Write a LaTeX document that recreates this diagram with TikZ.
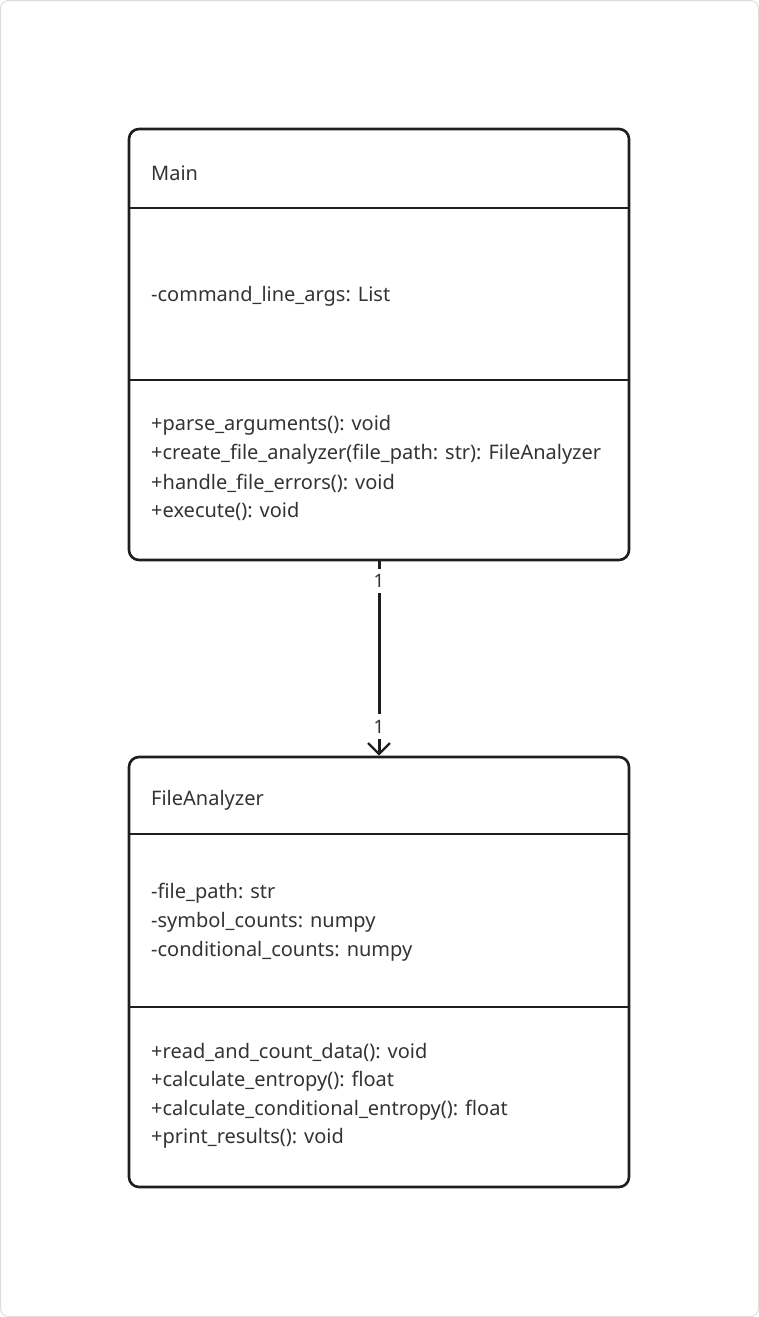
\documentclass[tikz,border=0pt]{standalone}
\usepackage{fontspec}
\setmainfont{Noto Sans}
\usetikzlibrary{arrows.meta}
\definecolor{txt}{HTML}{333333}
\definecolor{ln}{HTML}{1E1E1E}
\definecolor{frame}{HTML}{DDDDDD}
\tikzset{
  classbox/.style={draw=ln, line width=2.6pt, rounded corners=10pt, minimum width=500pt, inner sep=0pt},
  divider/.style={draw=ln, line width=2.6pt},
  member/.style={anchor=west, inner sep=0pt, text=txt, font=\fontsize{20}{24}\selectfont},
  mult/.style={fill=white, inner xsep=4pt, inner ysep=5.5pt, text=txt, font=\fontsize{18.5}{22}\selectfont},
  assoc/.style={draw=ln, line width=3pt, -{Straight Barb[length=11pt, width=22pt, line width=2.4pt]}}
}
\begin{document}
\begin{tikzpicture}[x=1pt, y=-1pt]
\useasboundingbox (0,0) rectangle (759,1317);
\draw[frame, line width=1pt, rounded corners=8pt] (0.5,0.5) rectangle (758.5,1316.5);

% Main class
\node[classbox, minimum height=431pt] (main) at (379,344.5) {};
\draw[divider] (main.west |- 0,208) -- (main.east |- 0,208);
\draw[divider] (main.west |- 0,380) -- (main.east |- 0,380);
\node[member] (mainname) at (151,173) {Main};
\node[member] (mainattr1) at (151,296.5) {-command\_line\_args: List};
\node[member] (mainop1) at (151,425.5) {+parse\_arguments(): void};
\node[member] (mainop2) at (151,454.5) {+create\_file\_analyzer(file\_path: str): FileAnalyzer};
\node[member] (mainop3) at (151,483) {+handle\_file\_errors(): void};
\node[member] (mainop4) at (151,511.5) {+execute(): void};

% FileAnalyzer class
\node[classbox, minimum height=430pt] (fa) at (379,972) {};
\draw[divider] (fa.west |- 0,834) -- (fa.east |- 0,834);
\draw[divider] (fa.west |- 0,1007) -- (fa.east |- 0,1007);
\node[member] (faname) at (151,800.5) {FileAnalyzer};
\node[member] (faattr1) at (151,893.5) {-file\_path: str};
\node[member] (faattr2) at (151,922.5) {-symbol\_counts: numpy};
\node[member] (faattr3) at (151,951) {-conditional\_counts: numpy};
\node[member] (faop1) at (151,1052.5) {+read\_and\_count\_data(): void};
\node[member] (faop2) at (151,1081.5) {+calculate\_entropy(): float};
\node[member] (faop3) at (151,1110) {+calculate\_conditional\_entropy(): float};
\node[member] (faop4) at (151,1138.5) {+print\_results(): void};

% association
\draw[assoc] (main.south) -- (fa.north)
  node[mult, pos=0.1] (m1) {1}
  node[mult, pos=0.85] (m2) {1};
\end{tikzpicture}
\end{document}
